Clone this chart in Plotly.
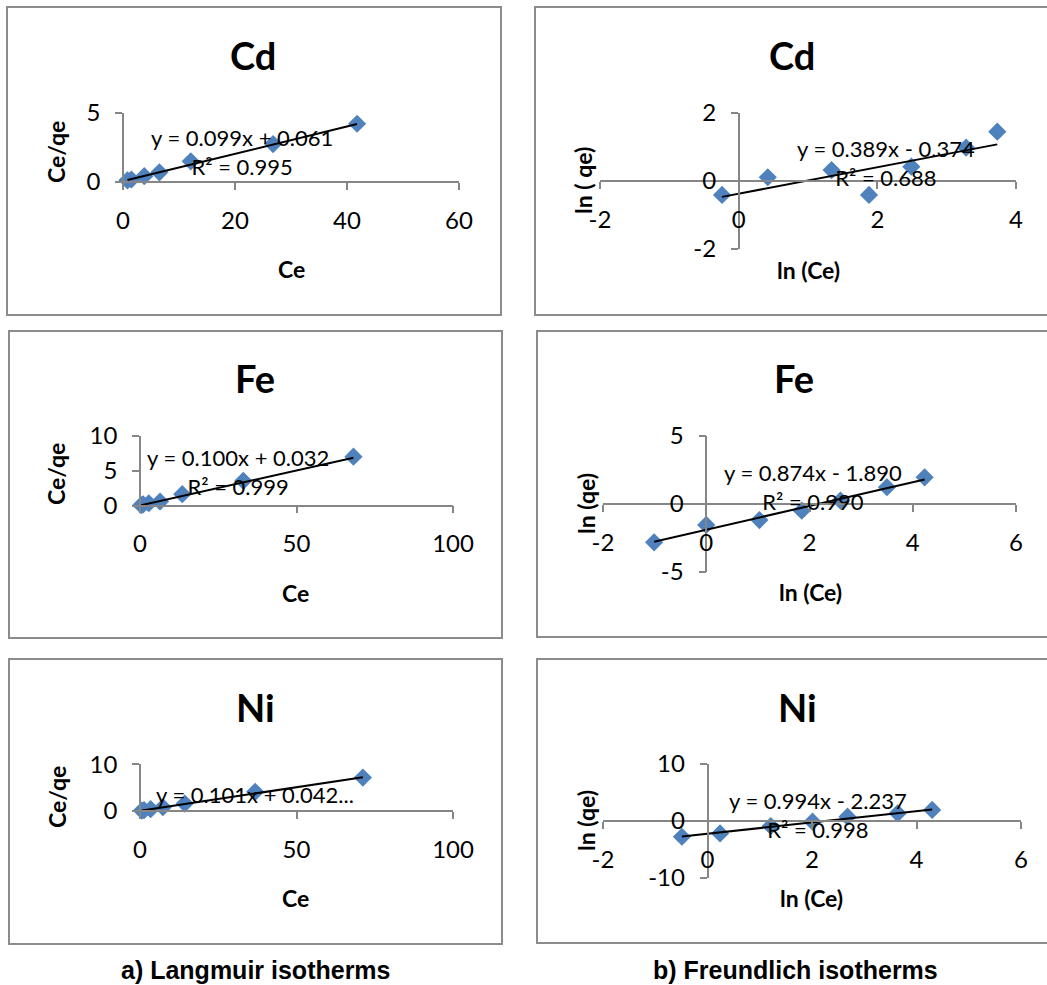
import plotly.graph_objects as go

W, H = 1047, 985

# ---- Langmuir isotherm data: Ce vs Ce/qe ----
cd_ce = [0.8, 1.5, 3.8, 6.5, 12.1, 26.8, 41.8]
cd_ceqe = [0.12, 0.18, 0.42, 0.70, 1.50, 2.75, 4.22]
fe_ce = [0.37, 1.0, 2.8, 6.4, 13.5, 33.0, 68.2]
fe_ceqe = [0.08, 0.20, 0.35, 0.60, 1.65, 3.55, 7.00]
ni_ce = [0.6, 1.3, 3.4, 7.3, 14.3, 36.8, 71.2]
ni_ceqe = [0.10, 0.17, 0.40, 0.80, 1.60, 4.10, 7.15]

# ---- Freundlich isotherm data: ln(Ce) vs ln(qe) ----
cd_lnce = [-0.24, 0.42, 1.34, 1.88, 2.49, 3.28, 3.73]
cd_lnqe = [-0.41, 0.11, 0.32, -0.41, 0.42, 0.98, 1.45]
fe_lnce = [-1.01, 0.00, 1.03, 1.85, 2.60, 3.50, 4.23]
fe_lnqe = [-2.82, -1.54, -1.18, -0.49, 0.25, 1.23, 1.96]
ni_lnce = [-0.49, 0.24, 1.21, 2.01, 2.68, 3.64, 4.30]
ni_lnqe = [-2.76, -2.18, -0.88, -0.12, 0.76, 1.35, 1.94]

# ---- linear fits (slope, intercept) and R² ----
cd_lang_fit = (0.099, 0.061, 0.995)
fe_lang_fit = (0.100, 0.032, 0.999)
ni_lang_fit = (0.101, 0.042, None)
cd_freu_fit = (0.389, -0.374, 0.688)
fe_freu_fit = (0.874, -1.890, 0.990)
ni_freu_fit = (0.994, -2.237, 0.998)

titles = ["Cd", "Cd", "Fe", "Fe", "Ni", "Ni"]
captions = ["a) Langmuir isotherms", "b) Freundlich isotherms"]

BLUE = "#4F81BD"
AXIS = "#868686"
FRAME = "#8C8C8C"
FONT = "Lato"


def fx(px):
    return px / W


def fy(py):
    return 1 - py / H


def eq_text(fit):
    m, b, r2 = fit
    sign = "+" if b >= 0 else "-"
    s = f"y = {m:.3f}x {sign} {abs(b):.3f}"
    if r2 is None:
        return s + "..."
    return s + f"<br>R² = {r2:.3f}"


def tick_list(rng, step):
    vals = []
    v = rng[0]
    while v <= rng[1] + 1e-9:
        vals.append(v)
        v += step
    return vals, [f"{t:g}" for t in vals]


panels = [
    dict(x=cd_ce, y=cd_ceqe, fit=cd_lang_fit, xr=[0, 60], yr=[0, 5], dx=20, dy=5,
         plot=(123, 459, 182, 113), frame=(7, 7, 501, 315),
         title=(253, 55), xt=("Ce", 291, 269), yt=("Ce/qe", 56, 152), lab=(21.3, 2.2)),
    dict(x=cd_lnce, y=cd_lnqe, fit=cd_freu_fit, xr=[-2, 4], yr=[-2, 2], dx=2, dy=2,
         plot=(600, 1016, 249, 113), frame=(535, 7, 1060, 315),
         title=(792, 55), xt=("ln (Ce)", 808, 270), yt=("ln ( qe)", 583, 181), lab=(2.13, 0.52)),
    dict(x=fe_ce, y=fe_ceqe, fit=fe_lang_fit, xr=[0, 100], yr=[0, 10], dx=50, dy=5,
         plot=(140, 453, 505.7, 435.7), frame=(9, 331, 502, 638),
         title=(255, 378), xt=("Ce", 295, 593), yt=("Ce/qe", 56, 474), lab=(31.2, 4.86)),
    dict(x=fe_lnce, y=fe_lnqe, fit=fe_freu_fit, xr=[-2, 6], yr=[-5, 5], dx=2, dy=5,
         plot=(603, 1016, 572, 436), frame=(537, 331, 1060, 637),
         title=(794, 378), xt=("ln (Ce)", 810, 592), yt=("ln (qe)", 586, 504), lab=(2.06, 1.26)),
    dict(x=ni_ce, y=ni_ceqe, fit=ni_lang_fit, xr=[0, 100], yr=[0, 10], dx=50, dy=10,
         plot=(140, 453, 811, 764.3), frame=(9, 659, 502, 944),
         title=(255, 707), xt=("Ce", 295, 898), yt=("Ce/qe", 57, 797), lab=(36.7, 3.43)),
    dict(x=ni_lnce, y=ni_lnqe, fit=ni_freu_fit, xr=[-2, 6], yr=[-10, 10], dx=2, dy=10,
         plot=(603, 1021, 878, 764), frame=(537, 659, 1060, 943),
         title=(797, 707), xt=("ln (Ce)", 811, 898), yt=("ln (qe)", 586, 821), lab=(2.12, 1.05)),
]

fig = go.Figure()
layout = dict(
    template="none",
    width=W, height=H, autosize=False, margin=dict(l=0, r=0, t=0, b=0, pad=0),
    paper_bgcolor="white", plot_bgcolor="white", showlegend=False,
    font=dict(family=FONT, color="black"),
)
annotations = []
shapes = []

for i, p in enumerate(panels, start=1):
    xa = "x" if i == 1 else f"x{i}"
    ya = "y" if i == 1 else f"y{i}"
    m, b, _ = p["fit"]

    fig.add_trace(go.Scatter(
        x=p["x"], y=p["y"], mode="markers", xaxis=xa, yaxis=ya, cliponaxis=False,
        marker=dict(symbol="diamond", size=14, color=BLUE, line=dict(width=0)),
        hoverinfo="x+y",
    ))
    xs = [min(p["x"]), max(p["x"])]
    fig.add_trace(go.Scatter(
        x=xs, y=[m * v + b for v in xs], mode="lines", xaxis=xa, yaxis=ya,
        cliponaxis=False, line=dict(color="black", width=2), hoverinfo="skip",
    ))

    x0, x1, y0, y1 = p["plot"]
    xd = [fx(x0), fx(x1)]
    yd = [fy(y0), fy(y1)]
    # axes cross at zero, as in a spreadsheet chart
    xr, yr = p["xr"], p["yr"]
    ypos = yd[0] + (0 - yr[0]) / (yr[1] - yr[0]) * (yd[1] - yd[0])
    xpos = xd[0] + (0 - xr[0]) / (xr[1] - xr[0]) * (xd[1] - xd[0])

    xtv, xtt = tick_list(xr, p["dx"])
    ytv, ytt = tick_list(yr, p["dy"])
    common = dict(showgrid=False, zeroline=False, showline=True, linecolor=AXIS,
                  linewidth=1.5, ticks="outside", ticklen=7, tickcolor=AXIS, tickwidth=1.5,
                  tickfont=dict(family=FONT, size=24, color="black"), fixedrange=True,
                  automargin=False, tickmode="array")
    layout["xaxis" if i == 1 else f"xaxis{i}"] = dict(
        common, domain=xd, range=xr, tickvals=xtv, ticktext=xtt, anchor="free",
        position=ypos, ticklabelstandoff=10)
    layout["yaxis" if i == 1 else f"yaxis{i}"] = dict(
        common, domain=yd, range=yr, tickvals=ytv, ticktext=ytt, anchor="free",
        position=xpos, ticklabelstandoff=10)

    # chart frame
    fx0, fy0, fx1, fy1 = p["frame"]
    shapes.append(dict(type="rect", xref="paper", yref="paper",
                       x0=fx(fx0), x1=fx(fx1), y0=fy(fy0), y1=fy(fy1),
                       line=dict(color=FRAME, width=2), layer="below"))

    # chart title
    tx, ty = p["title"]
    annotations.append(dict(text=titles[i - 1], x=fx(tx), y=fy(ty), xref="paper", yref="paper",
                            showarrow=False, xanchor="center", yanchor="middle",
                            font=dict(family=FONT, size=38, color="black", weight="bold")))
    # axis titles
    t, ax_x, ax_y = p["xt"]
    annotations.append(dict(text=f"<b>{t}</b>", x=fx(ax_x), y=fy(ax_y), xref="paper", yref="paper",
                            showarrow=False, xanchor="center", yanchor="middle",
                            font=dict(family=FONT, size=23, color="black")))
    t, ay_x, ay_y = p["yt"]
    annotations.append(dict(text=f"<b>{t}</b>", x=fx(ay_x), y=fy(ay_y), xref="paper", yref="paper",
                            showarrow=False, xanchor="center", yanchor="middle", textangle=-90,
                            font=dict(family=FONT, size=23, color="black")))
    # trendline equation
    lx, ly = p["lab"]
    annotations.append(dict(text=eq_text(p["fit"]), x=lx, y=ly, xref=xa, yref=ya,
                            showarrow=False, xanchor="center", yanchor="middle", align="center",
                            font=dict(family=FONT, size=22, color="black")))

# column captions
for cap, cx in zip(captions, [256, 795]):
    annotations.append(dict(text=f"<b>{cap}</b>", x=fx(cx), y=fy(970), xref="paper", yref="paper",
                            showarrow=False, xanchor="center", yanchor="middle",
                            font=dict(family="Liberation Sans", size=25, color="black")))

layout["annotations"] = annotations
layout["shapes"] = shapes
fig.update_layout(**layout)
fig.write_html("out.html")
